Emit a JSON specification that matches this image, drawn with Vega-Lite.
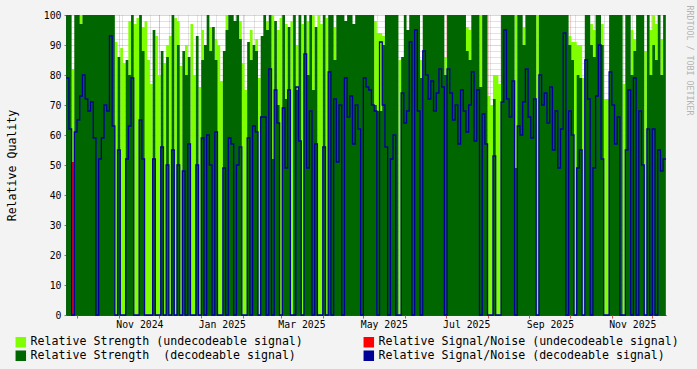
{
  "$schema": "https://vega.github.io/schema/vega-lite/v6.json",
  "width": 600,
  "height": 300,
  "autosize": "none",
  "padding": {"left": 66, "top": 15, "right": 31, "bottom": 54},
  "background": "#f3f3f3",
  "config": {
    "view": {"fill": "#ffffff", "stroke": null},
    "font": "DejaVu Sans Mono",
    "axis": {"labelFont": "DejaVu Sans Mono", "titleFont": "DejaVu Sans Mono", "zindex": 1, "labelColor": "#000000", "titleColor": "#000000"}
  },
  "datasets": {
    "red": [
      {"t": "2024-09-27", "r": 51},
      {"t": "2024-09-29", "r": 0}
    ],
    "main": [
      {"t":"2024-09-23","u":0,"g":100,"b":79},
      {"t":"2024-09-25","u":0,"g":100,"b":62},
      {"t":"2024-09-27","u":82,"g":0,"b":0},
      {"t":"2024-09-29","u":0,"g":100,"b":61},
      {"t":"2024-10-01","u":0,"g":100,"b":65},
      {"t":"2024-10-03","u":100,"g":97,"b":73},
      {"t":"2024-10-05","u":0,"g":100,"b":80},
      {"t":"2024-10-07","u":0,"g":100,"b":72},
      {"t":"2024-10-09","u":0,"g":100,"b":68},
      {"t":"2024-10-11","u":0,"g":100,"b":71},
      {"t":"2024-10-13","u":0,"g":100,"b":59},
      {"t":"2024-10-15","u":0,"g":100,"b":0},
      {"t":"2024-10-17","u":0,"g":100,"b":52},
      {"t":"2024-10-19","u":0,"g":100,"b":59},
      {"t":"2024-10-21","u":0,"g":100,"b":70},
      {"t":"2024-10-23","u":0,"g":100,"b":68},
      {"t":"2024-10-25","u":0,"g":100,"b":93},
      {"t":"2024-10-27","u":0,"g":100,"b":63},
      {"t":"2024-10-29","u":91,"g":0,"b":0},
      {"t":"2024-10-31","u":0,"g":86,"b":55},
      {"t":"2024-11-02","u":89,"g":0,"b":0},
      {"t":"2024-11-04","u":84,"g":0,"b":0},
      {"t":"2024-11-06","u":0,"g":85,"b":52},
      {"t":"2024-11-08","u":98,"g":80,"b":63},
      {"t":"2024-11-10","u":0,"g":100,"b":79},
      {"t":"2024-11-12","u":97,"g":0,"b":0},
      {"t":"2024-11-14","u":99,"g":0,"b":0},
      {"t":"2024-11-16","u":0,"g":100,"b":65},
      {"t":"2024-11-18","u":96,"g":88,"b":52},
      {"t":"2024-11-20","u":98,"g":0,"b":0},
      {"t":"2024-11-22","u":85,"g":0,"b":0},
      {"t":"2024-11-24","u":77,"g":0,"b":0},
      {"t":"2024-11-26","u":0,"g":95,"b":52},
      {"t":"2024-11-28","u":93,"g":0,"b":0},
      {"t":"2024-11-30","u":80,"g":0,"b":0},
      {"t":"2024-12-02","u":0,"g":88,"b":56},
      {"t":"2024-12-04","u":84,"g":0,"b":0},
      {"t":"2024-12-06","u":90,"g":86,"b":50},
      {"t":"2024-12-08","u":93,"g":0,"b":0},
      {"t":"2024-12-10","u":0,"g":100,"b":55},
      {"t":"2024-12-12","u":99,"g":0,"b":0},
      {"t":"2024-12-14","u":98,"g":90,"b":50},
      {"t":"2024-12-16","u":83,"g":0,"b":0},
      {"t":"2024-12-18","u":0,"g":88,"b":48},
      {"t":"2024-12-20","u":90,"g":80,"b":0},
      {"t":"2024-12-22","u":0,"g":86,"b":57},
      {"t":"2024-12-24","u":97,"g":0,"b":0},
      {"t":"2024-12-26","u":80,"g":0,"b":0},
      {"t":"2024-12-28","u":0,"g":93,"b":50},
      {"t":"2024-12-30","u":76,"g":0,"b":0},
      {"t":"2025-01-01","u":95,"g":85,"b":59},
      {"t":"2025-01-03","u":0,"g":90,"b":0},
      {"t":"2025-01-05","u":0,"g":100,"b":60},
      {"t":"2025-01-07","u":96,"g":88,"b":50},
      {"t":"2025-01-09","u":0,"g":96,"b":0},
      {"t":"2025-01-11","u":92,"g":85,"b":61},
      {"t":"2025-01-13","u":90,"g":0,"b":0},
      {"t":"2025-01-15","u":78,"g":0,"b":0},
      {"t":"2025-01-17","u":0,"g":88,"b":49},
      {"t":"2025-01-19","u":100,"g":95,"b":0},
      {"t":"2025-01-21","u":0,"g":100,"b":59},
      {"t":"2025-01-23","u":0,"g":100,"b":57},
      {"t":"2025-01-25","u":0,"g":98,"b":0},
      {"t":"2025-01-27","u":0,"g":100,"b":50},
      {"t":"2025-01-29","u":98,"g":92,"b":56},
      {"t":"2025-01-31","u":84,"g":0,"b":0},
      {"t":"2025-02-02","u":75,"g":0,"b":0},
      {"t":"2025-02-04","u":0,"g":91,"b":59},
      {"t":"2025-02-06","u":95,"g":85,"b":0},
      {"t":"2025-02-08","u":0,"g":90,"b":63},
      {"t":"2025-02-10","u":92,"g":88,"b":61},
      {"t":"2025-02-12","u":79,"g":0,"b":0},
      {"t":"2025-02-14","u":0,"g":93,"b":66},
      {"t":"2025-02-16","u":0,"g":100,"b":66},
      {"t":"2025-02-18","u":98,"g":95,"b":0},
      {"t":"2025-02-20","u":0,"g":100,"b":82},
      {"t":"2025-02-22","u":100,"g":52,"b":0},
      {"t":"2025-02-24","u":0,"g":98,"b":75},
      {"t":"2025-02-26","u":95,"g":70,"b":64},
      {"t":"2025-02-28","u":99,"g":0,"b":0},
      {"t":"2025-03-02","u":0,"g":100,"b":69},
      {"t":"2025-03-04","u":97,"g":72,"b":49},
      {"t":"2025-03-06","u":0,"g":96,"b":75},
      {"t":"2025-03-08","u":98,"g":0,"b":0},
      {"t":"2025-03-10","u":0,"g":100,"b":0},
      {"t":"2025-03-12","u":90,"g":75,"b":76},
      {"t":"2025-03-14","u":0,"g":100,"b":58},
      {"t":"2025-03-16","u":97,"g":0,"b":0},
      {"t":"2025-03-18","u":0,"g":100,"b":87},
      {"t":"2025-03-20","u":98,"g":80,"b":49},
      {"t":"2025-03-22","u":0,"g":100,"b":68},
      {"t":"2025-03-24","u":100,"g":75,"b":0},
      {"t":"2025-03-26","u":0,"g":96,"b":57},
      {"t":"2025-03-28","u":100,"g":0,"b":0},
      {"t":"2025-03-30","u":97,"g":0,"b":0},
      {"t":"2025-04-01","u":0,"g":100,"b":56},
      {"t":"2025-04-03","u":99,"g":0,"b":0},
      {"t":"2025-04-05","u":0,"g":100,"b":81},
      {"t":"2025-04-07","u":0,"g":100,"b":0},
      {"t":"2025-04-09","u":96,"g":85,"b":72},
      {"t":"2025-04-11","u":0,"g":100,"b":51},
      {"t":"2025-04-13","u":0,"g":100,"b":70},
      {"t":"2025-04-15","u":0,"g":100,"b":0},
      {"t":"2025-04-17","u":0,"g":98,"b":79},
      {"t":"2025-04-19","u":0,"g":100,"b":66},
      {"t":"2025-04-21","u":0,"g":100,"b":73},
      {"t":"2025-04-23","u":0,"g":97,"b":57},
      {"t":"2025-04-25","u":0,"g":100,"b":70},
      {"t":"2025-04-27","u":0,"g":100,"b":62},
      {"t":"2025-04-29","u":0,"g":100,"b":0},
      {"t":"2025-05-01","u":0,"g":100,"b":79},
      {"t":"2025-05-03","u":0,"g":100,"b":76},
      {"t":"2025-05-05","u":0,"g":100,"b":75},
      {"t":"2025-05-07","u":0,"g":100,"b":70},
      {"t":"2025-05-09","u":98,"g":70,"b":68},
      {"t":"2025-05-11","u":94,"g":68,"b":0},
      {"t":"2025-05-13","u":94,"g":68,"b":91},
      {"t":"2025-05-15","u":93,"g":90,"b":70},
      {"t":"2025-05-17","u":0,"g":100,"b":56},
      {"t":"2025-05-19","u":0,"g":100,"b":0},
      {"t":"2025-05-21","u":0,"g":100,"b":52},
      {"t":"2025-05-23","u":0,"g":100,"b":60},
      {"t":"2025-05-25","u":0,"g":100,"b":0},
      {"t":"2025-05-27","u":85,"g":0,"b":0},
      {"t":"2025-05-29","u":0,"g":86,"b":74},
      {"t":"2025-05-31","u":0,"g":100,"b":64},
      {"t":"2025-06-02","u":0,"g":95,"b":68},
      {"t":"2025-06-04","u":0,"g":100,"b":91},
      {"t":"2025-06-06","u":0,"g":100,"b":0},
      {"t":"2025-06-08","u":0,"g":100,"b":95},
      {"t":"2025-06-10","u":0,"g":100,"b":68},
      {"t":"2025-06-12","u":85,"g":79,"b":0},
      {"t":"2025-06-14","u":0,"g":100,"b":88},
      {"t":"2025-06-16","u":0,"g":100,"b":80},
      {"t":"2025-06-18","u":0,"g":100,"b":72},
      {"t":"2025-06-20","u":0,"g":100,"b":78},
      {"t":"2025-06-22","u":0,"g":100,"b":68},
      {"t":"2025-06-24","u":0,"g":100,"b":74},
      {"t":"2025-06-26","u":0,"g":100,"b":82},
      {"t":"2025-06-28","u":0,"g":100,"b":76},
      {"t":"2025-06-30","u":86,"g":80,"b":0},
      {"t":"2025-07-02","u":0,"g":100,"b":82},
      {"t":"2025-07-04","u":0,"g":100,"b":74},
      {"t":"2025-07-06","u":0,"g":100,"b":65},
      {"t":"2025-07-08","u":0,"g":100,"b":70},
      {"t":"2025-07-10","u":0,"g":100,"b":57},
      {"t":"2025-07-12","u":0,"g":100,"b":75},
      {"t":"2025-07-14","u":0,"g":100,"b":68},
      {"t":"2025-07-16","u":96,"g":88,"b":61},
      {"t":"2025-07-18","u":95,"g":85,"b":70},
      {"t":"2025-07-20","u":0,"g":100,"b":81},
      {"t":"2025-07-22","u":0,"g":100,"b":58},
      {"t":"2025-07-24","u":0,"g":100,"b":75},
      {"t":"2025-07-26","u":100,"g":76,"b":0},
      {"t":"2025-07-28","u":0,"g":100,"b":67},
      {"t":"2025-07-30","u":0,"g":100,"b":57},
      {"t":"2025-08-01","u":73,"g":0,"b":0},
      {"t":"2025-08-03","u":70,"g":0,"b":0},
      {"t":"2025-08-05","u":80,"g":72,"b":53},
      {"t":"2025-08-07","u":80,"g":0,"b":0},
      {"t":"2025-08-09","u":77,"g":0,"b":0},
      {"t":"2025-08-11","u":0,"g":100,"b":71},
      {"t":"2025-08-13","u":0,"g":100,"b":95},
      {"t":"2025-08-15","u":0,"g":100,"b":72},
      {"t":"2025-08-17","u":0,"g":100,"b":66},
      {"t":"2025-08-19","u":0,"g":100,"b":78},
      {"t":"2025-08-21","u":100,"g":49,"b":0},
      {"t":"2025-08-23","u":0,"g":100,"b":63},
      {"t":"2025-08-25","u":0,"g":100,"b":60},
      {"t":"2025-08-27","u":96,"g":90,"b":71},
      {"t":"2025-08-29","u":0,"g":100,"b":82},
      {"t":"2025-08-31","u":0,"g":100,"b":66},
      {"t":"2025-09-02","u":0,"g":100,"b":59},
      {"t":"2025-09-04","u":0,"g":100,"b":72},
      {"t":"2025-09-06","u":100,"g":0,"b":0},
      {"t":"2025-09-08","u":0,"g":100,"b":80},
      {"t":"2025-09-10","u":0,"g":100,"b":70},
      {"t":"2025-09-12","u":0,"g":100,"b":74},
      {"t":"2025-09-14","u":0,"g":100,"b":64},
      {"t":"2025-09-16","u":0,"g":100,"b":76},
      {"t":"2025-09-18","u":0,"g":100,"b":55},
      {"t":"2025-09-20","u":0,"g":100,"b":68},
      {"t":"2025-09-22","u":0,"g":100,"b":49},
      {"t":"2025-09-24","u":0,"g":100,"b":62},
      {"t":"2025-09-26","u":0,"g":100,"b":94},
      {"t":"2025-09-28","u":0,"g":100,"b":0},
      {"t":"2025-09-30","u":93,"g":90,"b":68},
      {"t":"2025-10-02","u":91,"g":85,"b":60},
      {"t":"2025-10-04","u":91,"g":0,"b":0},
      {"t":"2025-10-06","u":90,"g":80,"b":49},
      {"t":"2025-10-08","u":90,"g":79,"b":55},
      {"t":"2025-10-10","u":79,"g":0,"b":0},
      {"t":"2025-10-12","u":0,"g":100,"b":85},
      {"t":"2025-10-14","u":0,"g":100,"b":72},
      {"t":"2025-10-16","u":97,"g":90,"b":0},
      {"t":"2025-10-18","u":95,"g":86,"b":49},
      {"t":"2025-10-20","u":0,"g":100,"b":73},
      {"t":"2025-10-22","u":0,"g":100,"b":90},
      {"t":"2025-10-24","u":97,"g":90,"b":52},
      {"t":"2025-10-26","u":72,"g":0,"b":0},
      {"t":"2025-10-28","u":72,"g":0,"b":0},
      {"t":"2025-10-30","u":0,"g":100,"b":81},
      {"t":"2025-11-01","u":0,"g":100,"b":70},
      {"t":"2025-11-03","u":0,"g":100,"b":57},
      {"t":"2025-11-05","u":0,"g":100,"b":66},
      {"t":"2025-11-07","u":0,"g":100,"b":0},
      {"t":"2025-11-09","u":77,"g":0,"b":0},
      {"t":"2025-11-11","u":0,"g":100,"b":55},
      {"t":"2025-11-13","u":0,"g":100,"b":75},
      {"t":"2025-11-15","u":95,"g":80,"b":0},
      {"t":"2025-11-17","u":92,"g":88,"b":79},
      {"t":"2025-11-19","u":0,"g":100,"b":0},
      {"t":"2025-11-21","u":0,"g":100,"b":68},
      {"t":"2025-11-23","u":0,"g":100,"b":50},
      {"t":"2025-11-25","u":88,"g":0,"b":0},
      {"t":"2025-11-27","u":0,"g":100,"b":62},
      {"t":"2025-11-29","u":95,"g":80,"b":0},
      {"t":"2025-12-01","u":100,"g":90,"b":62},
      {"t":"2025-12-03","u":97,"g":85,"b":0},
      {"t":"2025-12-05","u":0,"g":100,"b":55},
      {"t":"2025-12-07","u":92,"g":80,"b":48},
      {"t":"2025-12-09","u":0,"g":100,"b":52},
      {"t":"2025-12-11","u":0,"g":100,"b":52}
    ]
  },
  "layer": [
    {
      "data": {"name": "main"},
      "mark": {"type": "area", "interpolate": "step-after", "opacity": 1},
      "encoding": {
        "x": {
          "field": "t", "type": "temporal",
          "scale": {"type": "utc", "domain": [{"year": 2024, "month": 9, "date": 22, "hours": 20, "utc": true}, {"year": 2025, "month": 12, "date": 11, "hours": 3, "utc": true}]},
          "axis": {"orient": "bottom", "tickCount": {"interval": "month", "step": 2}, "format": "%b %Y", "labelOffset": 20.5, "grid": false, "ticks": false, "domain": true, "domainColor": "#2c4d43", "labelFontSize": 9.8, "labelPadding": 4, "labelFlush": false, "labelOverlap": false, "title": null}
        },
        "y": {
          "field": "u", "type": "quantitative", "stack": null,
          "scale": {"domain": [0, 100], "nice": false},
          "axis": {"orient": "left", "values": [0, 10, 20, 30, 40, 50, 60, 70, 80, 90, 100], "grid": true, "gridColor": "#de5050", "gridOpacity": 0.6, "gridDash": [1, 1], "tickSize": 2, "tickColor": "#de5050", "domainColor": "#2c4d43", "labelFontSize": 9.8, "labelPadding": 3, "title": "Relative Quality", "titleFontSize": 11.6, "titleFontWeight": "normal", "titleX": -54, "titleY": 150, "titleAngle": 270, "titleBaseline": "middle", "titleAlign": "center"}
        },
        "color": {
          "datum": "Relative Strength (undecodeable signal)", "type": "nominal",
          "scale": {"domain": ["Relative Strength (undecodeable signal)", "Relative Strength\u00a0 (decodeable signal)", "Relative Signal/Noise (undecodeable signal)", "Relative Signal/Noise (decodeable signal)"], "range": ["#80ff00", "#006600", "#ff0000", "#000099"]},
          "legend": {"orient": "none", "legendX": -51, "legendY": 321, "columns": 2, "columnPadding": 58, "rowPadding": -2, "symbolType": "square", "symbolSize": 81, "labelFont": "DejaVu Sans Mono", "labelFontSize": 11.6, "labelColor": "#000000", "labelLimit": 0, "labelOffset": 4, "title": null, "padding": 0,
            "encode": {"symbols": {"update": {"fill": {"scale": "color", "field": "value"}, "stroke": {"value": "#000000"}, "strokeWidth": {"value": 1}, "opacity": {"value": 1}, "fillOpacity": {"value": 1}}}}}
        }
      }
    },
    {
      "data": {"name": "main"},
      "mark": {"type": "area", "interpolate": "step-after", "opacity": 1},
      "encoding": {
        "x": {
          "field": "t", "type": "temporal",
          "axis": {"orient": "bottom", "tickCount": {"interval": "month", "step": 1}, "grid": true, "gridColor": "#de5050", "gridOpacity": 0.6, "gridDash": [1, 1], "labels": false, "domain": false, "ticks": true, "tickColor": "#de5050", "tickSize": 3, "title": null}
        },
        "y": {
          "field": "g", "type": "quantitative", "stack": null,
          "axis": {"orient": "left", "values": [2, 4, 6, 8, 12, 14, 16, 18, 22, 24, 26, 28, 32, 34, 36, 38, 42, 44, 46, 48, 52, 54, 56, 58, 62, 64, 66, 68, 72, 74, 76, 78, 82, 84, 86, 88, 92, 94, 96, 98], "grid": true, "gridColor": "#8f8f8f", "gridOpacity": 0.5, "gridDash": [1, 1], "labels": false, "domain": false, "ticks": false, "title": null}
        },
        "color": {"datum": "Relative Strength\u00a0 (decodeable signal)", "type": "nominal"}
      }
    },
    {
      "data": {"name": "red"},
      "mark": {"type": "area", "interpolate": "step-after", "opacity": 1},
      "encoding": {
        "x": {
          "field": "t", "type": "temporal",
          "axis": {"orient": "bottom", "tickCount": {"interval": "week", "step": 1}, "grid": true, "gridColor": "#8f8f8f", "gridOpacity": 0.5, "gridDash": [1, 1], "labels": false, "domain": false, "ticks": false, "title": null}
        },
        "y": {"field": "r", "type": "quantitative", "stack": null, "axis": null},
        "color": {"datum": "Relative Signal/Noise (undecodeable signal)", "type": "nominal"}
      }
    },
    {
      "data": {"name": "main"},
      "mark": {"type": "line", "interpolate": "step-after", "strokeWidth": 1.3, "opacity": 1},
      "encoding": {
        "x": {"field": "t", "type": "temporal", "axis": null},
        "y": {
          "field": "b", "type": "quantitative", "stack": null,
          "axis": {"orient": "right", "labels": false, "ticks": false, "domain": false, "grid": false, "title": "RRDTOOL / TOBI OETIKER", "titleAngle": 90, "titleColor": "#b4b4b4", "titleFontSize": 8.3, "titleFontWeight": "normal", "titleX": 22, "titleY": -10, "titleAlign": "left", "titleBaseline": "middle"}
        },
        "color": {"datum": "Relative Signal/Noise (decodeable signal)", "type": "nominal"}
      }
    }
  ],
  "resolve": {"axis": {"x": "independent", "y": "independent"}}
}
